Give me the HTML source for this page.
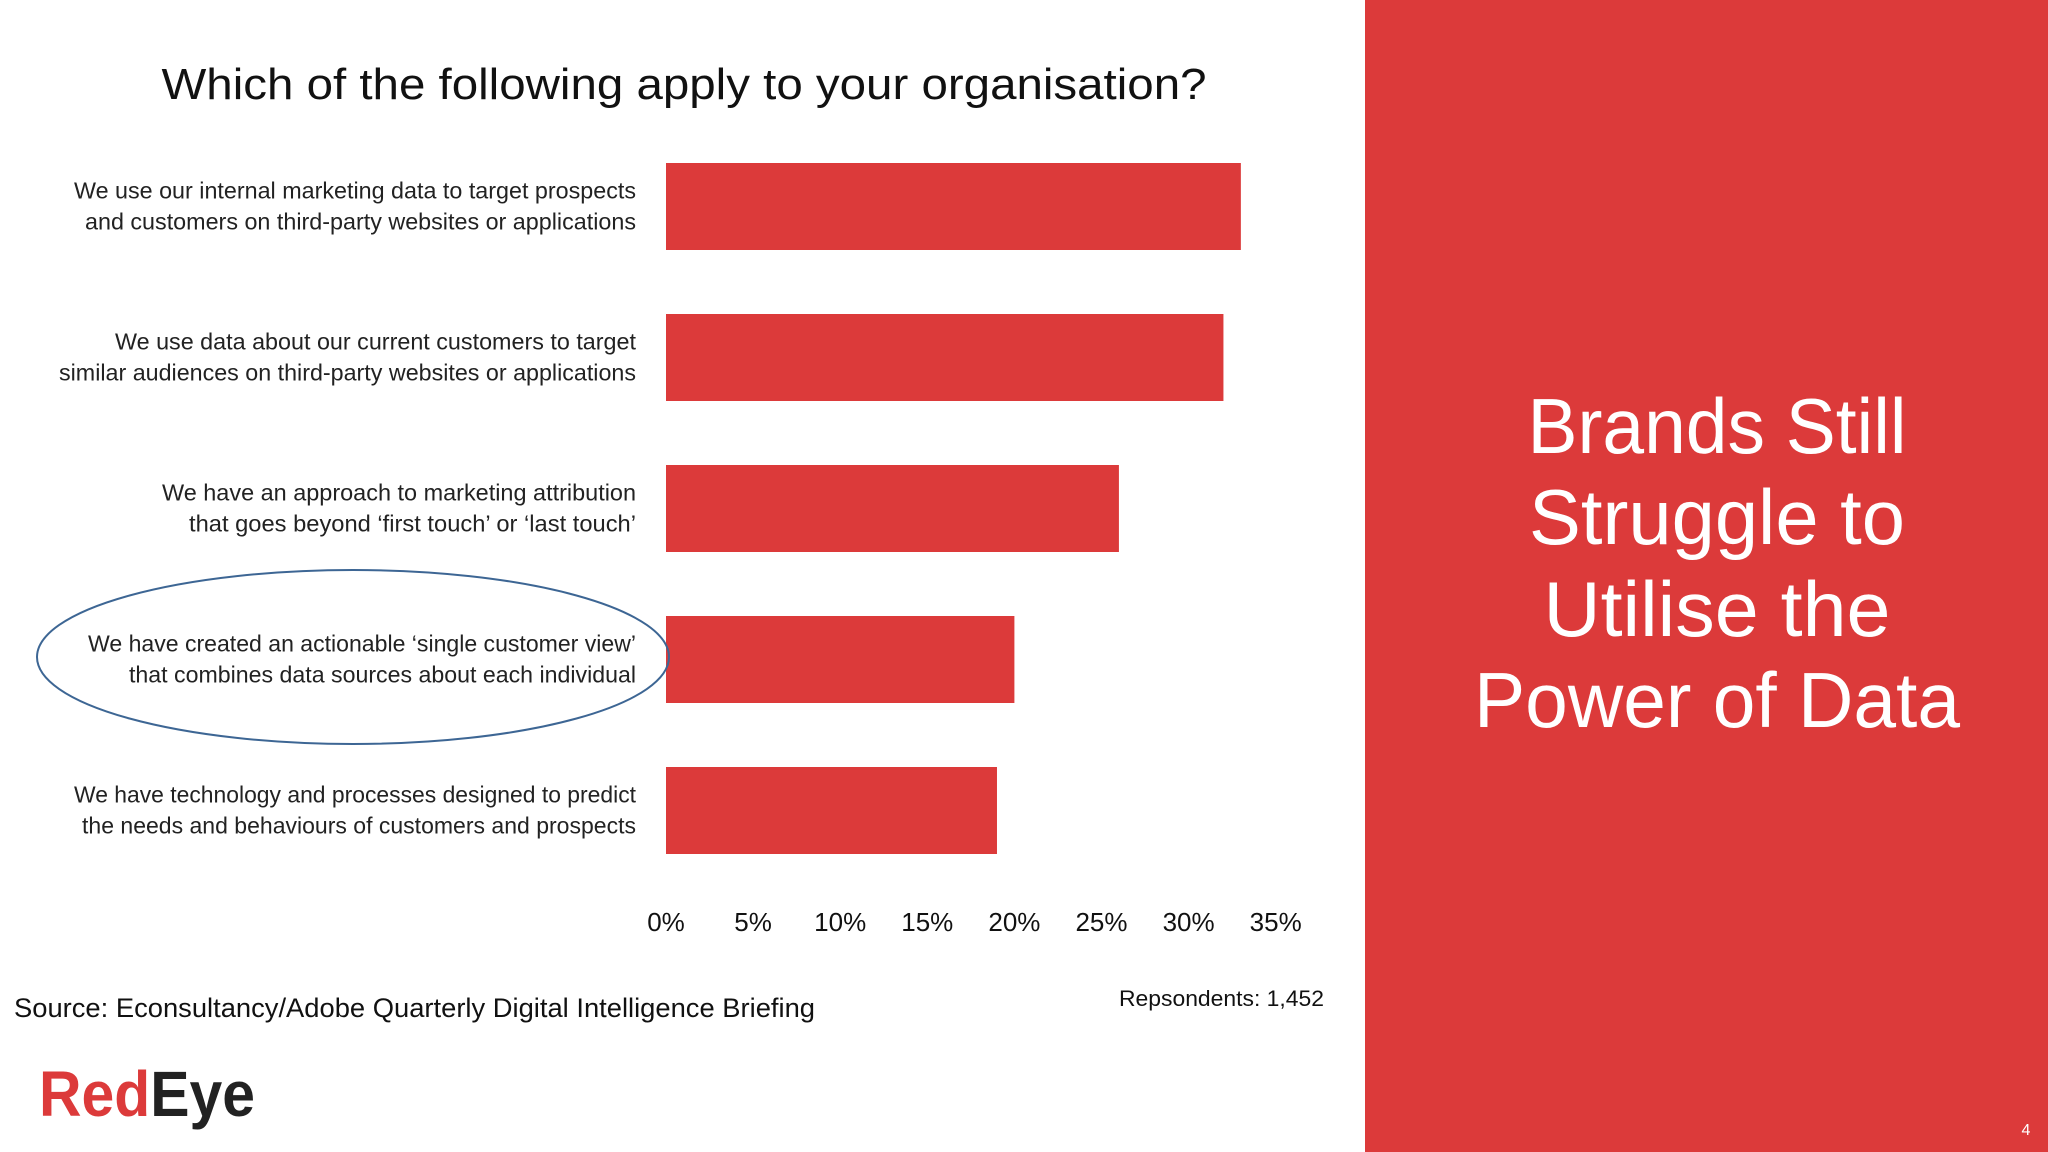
<!DOCTYPE html>
<html><head><meta charset="utf-8"><style>
html,body{margin:0;padding:0;background:#fff;}
svg{display:block;font-family:"Liberation Sans",sans-serif;}
</style></head><body>
<svg id="chart" width="2048" height="1152" viewBox="0 0 2048 1152">
<rect x="0" y="0" width="2048" height="1152" fill="#fff"/>
<rect x="1365" y="0" width="683" height="1152" fill="#dc3a3a"/>
<text x="684" y="99" text-anchor="middle" font-size="44" fill="#111" textLength="1045" lengthAdjust="spacingAndGlyphs">Which of the following apply to your organisation?</text>
<g id="bars"></g>
<g id="labels"></g>
<g id="ticks"></g>
<ellipse cx="353" cy="657" rx="316" ry="87" fill="none" stroke="#3d6694" stroke-width="2"/>
<text x="14" y="1017" font-size="27" fill="#111" textLength="801" lengthAdjust="spacingAndGlyphs">Source: Econsultancy/Adobe Quarterly Digital Intelligence Briefing</text>
<text x="1119" y="1006" font-size="22" fill="#111" textLength="205" lengthAdjust="spacingAndGlyphs">Repsondents: 1,452</text>
<text x="39" y="1116" font-size="64" font-weight="bold" textLength="216" lengthAdjust="spacingAndGlyphs"><tspan fill="#dc3a3a">Red</tspan><tspan fill="#222">Eye</tspan></text>
<g fill="#fff" font-size="78" text-anchor="middle">
<text x="1717" y="453" textLength="379" lengthAdjust="spacingAndGlyphs">Brands Still</text>
<text x="1717" y="544" textLength="376" lengthAdjust="spacingAndGlyphs">Struggle to</text>
<text x="1717" y="636" textLength="347" lengthAdjust="spacingAndGlyphs">Utilise the</text>
<text x="1717" y="727" textLength="486" lengthAdjust="spacingAndGlyphs">Power of Data</text>
</g>
<text x="2026" y="1135" font-size="16" fill="#fff" text-anchor="middle">4</text>
</svg>
<script>
const categories = [
 ["We use our internal marketing data to target prospects","and customers on third-party websites or applications"],
 ["We use data about our current customers to target","similar audiences on third-party websites or applications"],
 ["We have an approach to marketing attribution","that goes beyond \u2018first touch\u2019 or \u2018last touch\u2019"],
 ["We have created an actionable \u2018single customer view\u2019","that combines data sources about each individual"],
 ["We have technology and processes designed to predict","the needs and behaviours of customers and prospects"]
];
const values = [33, 32, 26, 20, 19];
const ticks = [0, 5, 10, 15, 20, 25, 30, 35];
const tickLabels = ["0%","5%","10%","15%","20%","25%","30%","35%"];

const NS = "http://www.w3.org/2000/svg";
const x0 = 666, pxPer = 17.42;
const xScale = v => x0 + v * pxPer;
const yTop = 163, step = 151, barH = 87;
const yScale = i => yTop + i * step;
const lineW = [[562,551],[521,577],[474,447],[548,507],[562,554]];
const gB = document.getElementById('bars');
const gL = document.getElementById('labels');
const gT = document.getElementById('ticks');
values.forEach((v, i) => {
  const r = document.createElementNS(NS, 'rect');
  r.setAttribute('x', xScale(0));
  r.setAttribute('y', yScale(i));
  r.setAttribute('width', xScale(v) - xScale(0));
  r.setAttribute('height', barH);
  r.setAttribute('fill', '#dc3a3a');
  
  
  gB.appendChild(r);
  const cy = yScale(i) + barH / 2;
  categories[i].forEach((line, j) => {
    const t = document.createElementNS(NS, 'text');
    t.setAttribute('x', 636);
    t.setAttribute('y', cy - 16 + j * 31 + 8);
    t.setAttribute('text-anchor', 'end');
    t.setAttribute('font-size', '23');
    t.setAttribute('fill', '#222');
    t.setAttribute('textLength', lineW[i][j]);
    t.setAttribute('lengthAdjust', 'spacingAndGlyphs');
    t.textContent = line;
    
    
    gL.appendChild(t);
  });
});
ticks.forEach((v, i) => {
  const t = document.createElementNS(NS, 'text');
  t.setAttribute('x', xScale(v));
  t.setAttribute('y', 931);
  t.setAttribute('text-anchor', 'middle');
  t.setAttribute('font-size', '26');
  t.setAttribute('fill', '#111');
  t.textContent = tickLabels[i];
  
  
  gT.appendChild(t);
});
</script>
</body></html>
